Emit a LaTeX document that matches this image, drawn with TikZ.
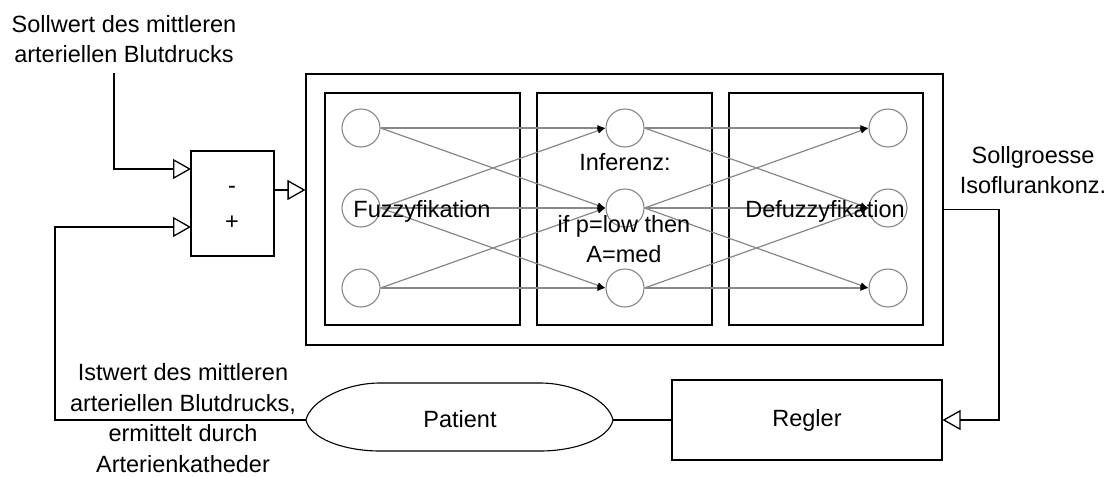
\documentclass[tikz,border=0pt]{standalone}
\usepackage{fontspec}
\setmainfont{Liberation Sans}
\usetikzlibrary{arrows.meta}
\definecolor{netgray}{RGB}{135,135,135}
\begin{document}
\begin{tikzpicture}[x=1pt,y=-1pt,
  every node/.style={font=\fontsize{23.5}{30}\selectfont, inner sep=0pt},
  box/.style={draw=black, line width=1.1pt, fill=none},
  sig/.style={draw=black, line width=1.1pt, -{Triangle[open,length=18pt,width=20pt,line width=1.3pt]}},
  plain/.style={draw=black, line width=1.1pt},
  neuron/.style={circle, draw=netgray, line width=1.1pt, minimum size=38pt},
  link/.style={draw=netgray, line width=1.2pt, -{Latex[length=8pt,width=6pt,black]}},
  lbl/.style={align=center, anchor=base}
]
\useasboundingbox (0,0) rectangle (1108,477);

% outer fuzzy controller box and three stages
\node[box, minimum width=637pt, minimum height=271pt] (outer) at (624.5,209.5) {};
\node[box, minimum width=195pt, minimum height=232pt] (fuz) at (422.5,209) {};
\node[box, minimum width=175pt, minimum height=232pt] (inf) at (624.5,209) {};
\node[box, minimum width=194pt, minimum height=232pt] (defuz) at (826,209) {};

% neurons
\node[neuron] (L1) at (361,128) {};
\node[neuron] (L2) at (361,208) {};
\node[neuron] (L3) at (361,288) {};
\node[neuron] (M1) at (625,128) {};
\node[neuron] (M2) at (625,208) {};
\node[neuron] (M3) at (625,288) {};
\node[neuron] (R1) at (888,128) {};
\node[neuron] (R2) at (888,208) {};
\node[neuron] (R3) at (888,288) {};

% links
\draw[link] (L1.east) -- (M1.west);
\draw[link] (L1.east) -- (M2.west);
\draw[link] (L2.east) -- (M1.west);
\draw[link] (L2.east) -- (M2.west);
\draw[link] (L2.east) -- (M3.west);
\draw[link] (L3.east) -- (M2.west);
\draw[link] (L3.east) -- (M3.west);
\draw[link] (M1.east) -- (R1.west);
\draw[link] (M1.east) -- (R2.west);
\draw[link] (M2.east) -- (R1.west);
\draw[link] (M2.east) -- (R2.west);
\draw[link] (M2.east) -- (R3.west);
\draw[link] (M3.east) -- (R2.west);
\draw[link] (M3.east) -- (R3.west);

% stage texts
\node[lbl] (tfuz) at (422,217) {Fuzzyfikation};
\node[lbl] (tinf) at (625,170) {Inferenz:};
\node[lbl] (trule) at (624,262) {if p=low then\\A=med};
\node[lbl] (tdef) at (825,217) {Defuzzyfikation};

% summing junction
\node[box, minimum width=83pt, minimum height=105pt] (sum) at (232.5,203.5) {};
\node[lbl] (minus) at (232,193) {-};
\node[lbl] (plus) at (232,229) {+};
\coordinate (sin1) at (191,169);
\coordinate (sin2) at (191,227);
\coordinate (sout) at (274,190);

% setpoint input
\node[lbl] (soll) at (124,62) {Sollwert des mittleren\\arteriellen Blutdrucks};
\coordinate (sw) at (114,73);
\draw[sig] (sw) |- (sin1);

% sum -> controller
\draw[sig] (sout) -- (outer.west |- sout);

% controller output
\node[lbl] (sg) at (1033,193) {Sollgroesse\\Isoflurankonz.};
\node[box, minimum width=270pt, minimum height=80pt] (regler) at (807,420) {Regler};
\coordinate (turn) at (999,209.5);
\draw[sig] (outer.east) -- (turn) |- (regler.east);

% patient
\node (pat) at (460,419) {Patient};
\coordinate (patL) at (306,420);
\coordinate (patR) at (613,420);
\draw[box] (patL) .. controls (310,401) and (345,383) .. (380,383) -- (540,383)
  .. controls (575,383) and (609,401) .. (patR)
  .. controls (609,439) and (575,451) .. (540,451) -- (380,451)
  .. controls (345,451) and (310,439) .. (patL);
\draw[plain] (patR) -- (regler.west);

% feedback
\coordinate (fb) at (55,420);
\node[lbl, font=\fontsize{23.5}{30.5}\selectfont] (ist) at (183,472) {Istwert des mittleren\\arteriellen Blutdrucks,\\ermittelt durch\\Arterienkatheder};
\draw[sig] (patL) -- (fb) |- (sin2);
\end{tikzpicture}
\end{document}
